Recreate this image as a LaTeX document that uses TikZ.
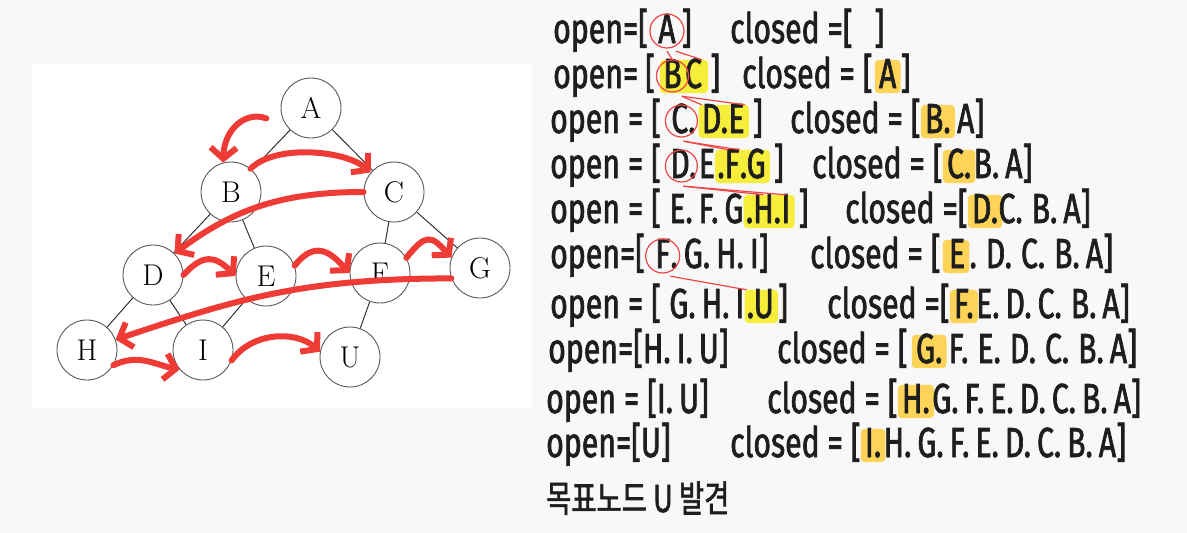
\documentclass[tikz,border=0pt]{standalone}
\usepackage{fontspec}
\newfontfamily\handfont{Fira Sans}[FakeStretch=0.72,FakeBold=1.6]
\newfontfamily\krfont{Noto Sans CJK KR}[FakeBold=1.6,FakeStretch=0.74]
\usetikzlibrary{arrows.meta,calc,positioning,backgrounds}
\definecolor{visitred}{HTML}{EE3B36}
\definecolor{markred}{HTML}{F04545}
\definecolor{openhl}{HTML}{F7EE3C}
\definecolor{closedhl}{HTML}{FDD458}
\definecolor{ink}{HTML}{1E1E1E}
\definecolor{pagebg}{HTML}{F8F8F8}
\newcommand\nx{.\hspace{6pt}}
\newcommand\nxw{.\hspace{9pt}}
\tikzset{
    vert/.style={circle,draw=black!65,line width=0.9pt,minimum size=60pt,inner sep=0pt,font=\fontsize{30}{30}\selectfont},
    tedge/.style={draw=black!80,line width=1pt},
    visit/.style={draw=visitred,line width=6pt,line cap=round,-{Straight Barb[length=11pt,width=26pt]}},
    hand/.style={font=\handfont\fontsize{42}{42}\selectfont,text=ink,inner sep=0pt,text height=28pt,text depth=8pt},
    korean/.style={font=\krfont\fontsize{37}{37}\selectfont,text=ink,inner sep=0pt},
    ring/.style={draw=markred,line width=1.2pt},
    link/.style={draw=markred,line width=1.2pt},
    newmark/.style={fill=openhl,rounded corners=4pt},
    donemark/.style={fill=closedhl,rounded corners=4pt}
}

\begin{document}
\begin{tikzpicture}[x=1pt,y=-1pt]
  \useasboundingbox (0,0) rectangle (1187,533);
  \begin{scope}[on background layer]
    \fill[pagebg] (0,0) rectangle (1187,533);
  \end{scope}

  % tree
  \fill[white] (32,64) rectangle (532,408);
  \node[vert] (A) at (311,108) {A};
  \node[vert] (B) at (231,192) {B};
  \node[vert] (C) at (394,192) {C};
  \node[vert] (D) at (153,275) {D};
  \node[vert] (E) at (266,276) {E};
  \node[vert] (F) at (380,273) {F};
  \node[vert] (G) at (480,268) {G};
  \node[vert] (H) at (87,350) {H};
  \node[vert] (I) at (203,350) {I};
  \node[vert] (U) at (350,357) {U};
  \foreach \a/\b in {A/B,A/C,B/D,B/E,C/F,C/G,D/H,D/I,E/I,F/U}{
    \draw[tedge] (\a) -- (\b);
  }

  % visiting order
  \draw[visit] ($(A.200)+(-16,0)$) .. controls +(-22,-8) and +(1,-32) .. (B.105);
  \draw[visit] (B.50) .. controls +(25,-25) and +(-25,-22) .. (C.140);
  \draw[visit] (C.west) .. controls +(-80,0) and +(60,-45) .. (D.45);
  \draw[visit] (D.east) .. controls +(20,-22) and +(-20,-20) .. (E.west);
  \draw[visit] (E.20) .. controls +(20,-25) and +(-20,-22) .. (F.west);
  \draw[visit] (F.30) .. controls +(20,-25) and +(-20,-22) .. (G.160);
  \draw[visit] (G.200) .. controls +(-150,0) and +(120,-40) .. (H.20);
  \draw[visit] (H.-30) .. controls +(25,-12) and +(-25,-5) .. (I.220);
  \draw[visit] (I.-20) .. controls +(20,-28) and +(-25,-22) .. (U.170);

  % open / closed
  \node[hand,anchor=base west] (o1) at (553,43) {open=[};
  \node[hand,right=10pt of o1] (o1a) {A};
  \node[hand,right=6pt of o1a] (o1z) {]};
  \node[hand,anchor=base west] (c1) at (730,43) {closed =[\hspace{22pt}]};

  \node[hand,anchor=base west] (o2) at (553,88) {open=\,[};
  \node[hand,right=8pt of o2] (o2b) {B};
  \node[hand,right=3pt of o2b] (o2c) {C};
  \node[hand,right=8pt of o2c] (o2z) {]};
  \node[hand,anchor=base west] (c2) at (742,88) {closed = [};
  \node[hand,right=6pt of c2] (c2a) {A};
  \node[hand,right=4pt of c2a] (c2z) {]};

  \node[hand,anchor=base west] (o3) at (550,133) {open = [};
  \node[hand,right=10pt of o3] (o3c) {C.};
  \node[hand,right=6pt of o3c] (o3d) {D\nx};
  \node[hand,right=0pt of o3d] (o3e) {E};
  \node[hand,right=8pt of o3e] (o3z) {]};
  \node[hand,anchor=base west] (c3) at (790,133) {closed = [};
  \node[hand,right=4pt of c3] (c3b) {B.};
  \node[hand,right=6pt of c3b] (c3r) {A]};

  \node[hand,anchor=base west] (o4) at (550,178) {open = [};
  \node[hand,right=9pt of o4] (o4d) {D.};
  \node[hand,right=2pt of o4d] (o4e) {E};
  \node[hand,right=2pt of o4e] (o4f) {.F\hspace{6pt}};
  \node[hand,right=0pt of o4f] (o4g) {.G};
  \node[hand,right=8pt of o4g] (o4z) {]};
  \node[hand,anchor=base west] (c4) at (812,178) {closed = [};
  \node[hand,right=4pt of c4] (c4c) {C.};
  \node[hand,right=2pt of c4c] (c4r) {B\nx A]};

  \node[hand,anchor=base west] (o5) at (550,223) {open = [};
  \node[hand,right=8pt of o5] (o5r) {E\nx F\nx G};
  \node[hand,right=2pt of o5r] (o5h) {.H\nxw};
  \node[hand,right=0pt of o5h] (o5i) {I};
  \node[hand,right=8pt of o5i] (o5z) {]};
  \node[hand,anchor=base west] (c5) at (845,223) {closed =[};
  \node[hand,right=4pt of c5] (c5d) {D.};
  \node[hand,right=0pt of c5d] (c5r) {C\nxw B\nx A]};

  \node[hand,anchor=base west] (o6) at (550,268) {open=[};
  \node[hand,right=10pt of o6] (o6f) {F};
  \node[hand,right=0pt of o6f] (o6r) {\nx G\nx H\nx I]};
  \node[hand,anchor=base west] (c6) at (810,268) {closed = [};
  \node[hand,right=8pt of c6] (c6e) {E};
  \node[hand,right=4pt of c6e] (c6r) {\nxw D\nxw C\nxw B\nx A]};

  \node[hand,anchor=base west] (o7) at (550,318) {open = [};
  \node[hand,right=8pt of o7] (o7r) {G\nx H\nx I};
  \node[hand,right=2pt of o7r] (o7u) {.U};
  \node[hand,right=4pt of o7u] (o7z) {]};
  \node[hand,anchor=base west] (c7) at (827,318) {closed =[};
  \node[hand,right=4pt of c7] (c7f) {F.};
  \node[hand,right=2pt of c7f] (c7r) {E\nx D\nx C\nxw B\nx A]};

  \node[hand,anchor=base west] (o8) at (548,363) {open=[H\nx I\nx U]};
  \node[hand,anchor=base west] (c8) at (777,363) {closed = [};
  \node[hand,right=8pt of c8] (c8g) {G.};
  \node[hand,right=6pt of c8g] (c8r) {F\nxw E\nxw D\nxw C\nxw B\nx A]};

  \node[hand,anchor=base west] (o9) at (546,413) {open = [I\nx U]};
  \node[hand,anchor=base west] (c9) at (767,413) {closed = [};
  \node[hand,right=4pt of c9] (c9h) {H.};
  \node[hand,right=2pt of c9h] (c9r) {G\nx F\nx E\nx D\nx C\nx B\nx A]};

  \node[hand,anchor=base west] (o10) at (546,457) {open=[U]};
  \node[hand,anchor=base west] (c10) at (730,457) {closed = [};
  \node[hand,right=4pt of c10] (c10i) {I.};
  \node[hand,right=2pt of c10i] (c10r) {H\nx G\nx F\nx E\nx D\nx C\nx B\nx A]};

  \node[korean,anchor=base west] (goal) at (546,512) {목표노드 U 발견};

  % highlights
  \begin{scope}[on background layer]
    \fill[newmark] ($(o2b.north west)+(-3,0)$) rectangle ($(o2c.south east)+(6,-3)$);
    \fill[newmark] ($(o3d.north west)+(-3,0)$) rectangle ($(o3e.south east)+(4,-3)$);
    \fill[newmark] ($(o4f.north west)+(-2,0)$) rectangle ($(o4g.south east)+(4,-3)$);
    \fill[newmark] ($(o5h.north west)+(-2,0)$) rectangle ($(o5i.south east)+(4,-3)$);
    \fill[newmark] ($(o7u.north west)+(-2,0)$) rectangle ($(o7u.south east)+(4,-3)$);
    \fill[donemark] ($(c2a.north west)+(-4,0)$) rectangle ($(c2a.south east)+(4,-3)$);
    \fill[donemark] ($(c3b.north west)+(-4,0)$) rectangle ($(c3b.south east)+(4,-3)$);
    \fill[donemark] ($(c4c.north west)+(-4,0)$) rectangle ($(c4c.south east)+(4,-3)$);
    \fill[donemark] ($(c5d.north west)+(-4,0)$) rectangle ($(c5d.south east)+(4,-3)$);
    \fill[donemark] ($(c6e.north west)+(-6,0)$) rectangle ($(c6e.south east)+(4,-3)$);
    \fill[donemark] ($(c7f.north west)+(-4,0)$) rectangle ($(c7f.south east)+(4,-3)$);
    \fill[donemark] ($(c8g.north west)+(-4,0)$) rectangle ($(c8g.south east)+(4,-3)$);
    \fill[donemark] ($(c9h.north west)+(-4,0)$) rectangle ($(c9h.south east)+(4,-3)$);
    \fill[donemark] ($(c10i.north west)+(-4,0)$) rectangle ($(c10i.south east)+(4,-3)$);
  \end{scope}

  % expanded node and its children
  \draw[ring] ($(o1a.center)+(0,-2)$) circle[radius=17pt];
  \draw[ring] ($(o2b.center)+(0,-2)$) circle[radius=16pt];
  \draw[ring] ($(o3c.center)+(-2,-2)$) circle[radius=16pt];
  \draw[ring] ($(o4d.center)+(-2,-2)$) circle[radius=16pt];
  \draw[ring] ($(o6f.center)+(0,-2)$) circle[radius=17pt];
  \draw[link] (o1a.south) -- (o2b.north);
  \draw[link] (o1a.south east) -- (o2c.north east);
  \draw[link] (o2b.south east) -- (o3d.north west);
  \draw[link] (o2b.south east) -- (o3e.north east);
  \draw[link] (o3c.south) -- (o4f.north);
  \draw[link] (o3c.south) -- (o4g.north west);
  \draw[link] (o4d.south) -- (o5h.north);
  \draw[link] (o4d.south) -- (o5i.north);
  \draw[link] (o6f.south east) -- (o7u.north west);
\end{tikzpicture}
\end{document}
